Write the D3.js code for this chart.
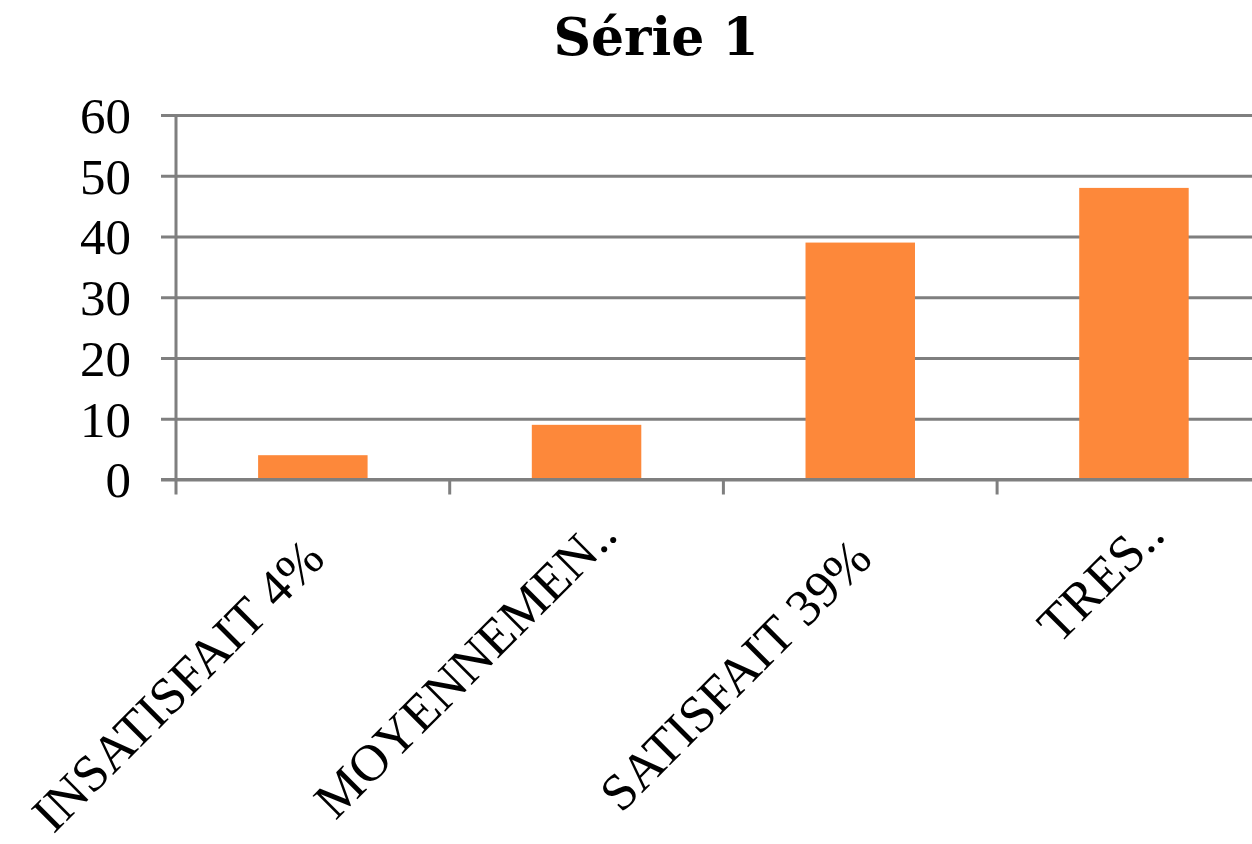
<!DOCTYPE html>
<html lang="fr">
<head>
<meta charset="utf-8">
<title>Série 1</title>
<script src="https://cdn.jsdelivr.net/npm/d3@7"></script>
<style>
  html, body { margin: 0; padding: 0; background: #ffffff; }
  svg { display: block; }
</style>
</head>
<body>
<svg id="chart" width="1252" height="844"></svg>
<script>
// Satisfaction survey, single series
const categoryLabels = ["INSATISFAIT 4%", "MOYENNEMEN..", "SATISFAIT 39%", "TRES.."];
const truncated = [false, true, false, true];
const seriesValues = [4, 9, 39, 48];
const yTicks = [0, 10, 20, 30, 40, 50, 60];
const chartTitle = "Série 1";

const W = 1252, H = 844;
const plotLeft = 176, plotTop = 115, plotBottom = 479.5;
const step = 273.7;

const svg = d3.select("#chart");
svg.append("rect").attr("width", W).attr("height", H).attr("fill", "#ffffff");

const x = d3.scaleBand()
  .domain(categoryLabels)
  .range([plotLeft, plotLeft + step * categoryLabels.length])
  .paddingInner(0.6)
  .paddingOuter(0.3);

const y = d3.scaleLinear().domain([0, 60]).range([plotBottom, plotTop]);

const gridColor = "#7f7f7f";

// horizontal gridlines with outer tick marks
const yAxis = d3.axisLeft(y)
  .tickValues(yTicks)
  .tickSize(-(W - plotLeft))
  .tickPadding(45)
  .tickFormat(d3.format("d"));

const gy = svg.append("g")
  .attr("transform", `translate(${plotLeft},0)`)
  .call(yAxis);
gy.select(".domain").remove();
gy.selectAll(".tick line")
  .attr("x1", -15)
  .attr("stroke", gridColor)
  .attr("stroke-width", 3);
gy.selectAll(".tick text")
  .attr("font-family", "'Liberation Serif', 'Times New Roman', serif")
  .attr("font-size", 51)
  .attr("fill", "#000")
  .attr("dy", "0.34em");

// bars
svg.append("g")
  .selectAll("rect")
  .data(seriesValues)
  .join("rect")
  .attr("x", (d, i) => x(categoryLabels[i]))
  .attr("y", d => y(d))
  .attr("width", x.bandwidth())
  .attr("height", d => y(0) - y(d))
  .attr("fill", "#fd883a");

// category axis: baseline and boundary ticks
const bounds = d3.range(categoryLabels.length + 1).map(i => plotLeft + i * x.step());
svg.append("line")
  .attr("x1", plotLeft - 15).attr("x2", W)
  .attr("y1", y(0)).attr("y2", y(0))
  .attr("stroke", gridColor).attr("stroke-width", 3);
svg.append("g")
  .selectAll("line")
  .data(bounds)
  .join("line")
  .attr("x1", d => d).attr("x2", d => d)
  .attr("y1", d => (d === plotLeft ? plotTop : y(0)))
  .attr("y2", y(0) + 15)
  .attr("stroke", gridColor).attr("stroke-width", 3);

// rotated category labels
svg.append("g")
  .selectAll("text")
  .data(categoryLabels)
  .join("text")
  .attr("transform", (d, i) => {
    const cx = x(d) + x.bandwidth() / 2;
    const ax = truncated[i] ? cx + 33 : cx + 14;
    const ay = truncated[i] ? 537 : 561;
    return `translate(${ax},${ay}) rotate(-45)`;
  })
  .attr("text-anchor", "end")
  .attr("font-family", "'Liberation Serif', 'Times New Roman', serif")
  .attr("font-size", 52)
  .attr("fill", "#000")
  .text(d => d);

// title
svg.append("text")
  .attr("x", 656)
  .attr("y", 55)
  .attr("text-anchor", "middle")
  .attr("font-family", "'DejaVu Serif', serif")
  .attr("font-weight", "bold")
  .attr("font-size", 52)
  .attr("fill", "#000")
  .text(chartTitle);
</script>
</body>
</html>
